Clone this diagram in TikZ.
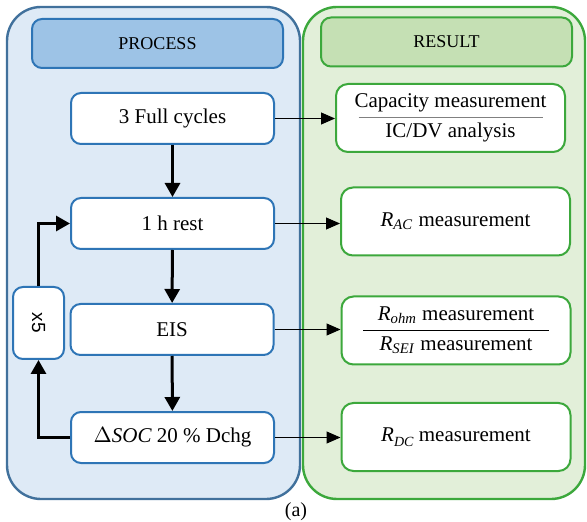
\documentclass[tikz,border=0pt]{standalone}
\usepackage{fontspec}
\setmainfont{Liberation Serif}
\setsansfont{Liberation Sans}
\usetikzlibrary{arrows.meta}

\definecolor{procfill}{RGB}{222,234,246}
\definecolor{procline}{RGB}{65,113,156}
\definecolor{prochead}{RGB}{157,195,230}
\definecolor{procbord}{RGB}{46,117,182}
\definecolor{resfill}{RGB}{226,239,217}
\definecolor{resline}{RGB}{60,168,60}
\definecolor{reshead}{RGB}{197,224,180}

\tikzset{
    procbox/.style={draw=procbord, fill=white, line width=1pt, rounded corners=5pt,
        minimum width=101.5pt, minimum height=25.5pt, font=\fontsize{10.5}{15}\selectfont},
    resbox/.style={draw=resline, fill=white, line width=1pt, rounded corners=6pt,
        minimum width=114.5pt, minimum height=34pt, align=center, font=\fontsize{10.5}{15}\selectfont},
    headbox/.style={line width=1pt, rounded corners=5pt, minimum width=125.5pt,
        minimum height=24.5pt, font=\fontsize{9}{11}\selectfont},
    flow/.style={line width=1.5pt, -{Triangle[length=7pt,width=7.5pt]}},
    link/.style={line width=0.5pt, -{Triangle[length=7pt,width=6pt]}}
}

\begin{document}
\begin{tikzpicture}[x=0.5pt, y=-0.5pt]
    \useasboundingbox (0,0) rectangle (587,522);

    % panels
    \draw[procline, fill=procfill, line width=1.2pt, rounded corners=17pt](7,7) rectangle (300,499);
    \draw[resline, fill=resfill, line width=1.2pt, rounded corners=17pt](303,7) rectangle (585,499);

    \node[headbox, draw=procbord, fill=prochead](phead) at (157.5,43.5){PROCESS};
    \node[headbox, draw=resline, fill=reshead](rhead) at (446.5,42){RESULT};

    % process steps
    \node[procbox](full) at (172.5,118.5){3 Full cycles};
    \node[procbox](rest) at (172.5,223.5){1 h rest};
    \node[procbox](eis) at (172,329.5){EIS};
    \node[procbox](soc) at (172.5,437.5){$\Delta\mathit{SOC}$ 20 \% Dchg};
    \node[procbox, minimum width=25.5pt, minimum height=36pt, rounded corners=5pt,
        font=\sffamily\fontsize{9.5}{11}\selectfont](rep) at (38.5,323){\rotatebox{-90}{x5}};

    % results
    \node[resbox](cap) at (450.5,118){Capacity measurement\\IC/DV analysis};
    \node[resbox](rac) at (455.5,221.5){\textit{R}\textsubscript{\textit{AC}} measurement};
    \node[resbox](rohm) at (456,330.5){\textit{R}\textsubscript{\textit{ohm}} measurement\\\textit{R}\textsubscript{\textit{SEI}} measurement};
    \node[resbox](rdc) at (456,437){\textit{R}\raisebox{-0.55ex}{\scriptsize\textit{DC}} measurement};

    \draw[gray, line width=0.5pt](cap.center) ++(-92,0) -- ++(184,0);
    \draw[black, line width=0.5pt](rohm.center) ++(-93,0) -- ++(186,0);

    % flow
    \draw[flow](full) -- (rest);
    \draw[flow](rest) -- (eis);
    \draw[flow](eis) -- (soc);
    \draw[flow](soc.west) -| (rep.south);
    \draw[flow](rep.north) |- (rest.west);

    \draw[link](full.east) -- (full.east -| cap.west);
    \draw[link](rest.east) -- (rest.east -| rac.west);
    \draw[link](eis.east) -- (eis.east -| rohm.west);
    \draw[link](soc.east) -- (soc.east -| rdc.west);

    \node[font=\fontsize{10}{12}\selectfont](cap-a) at (296,512){(a)};
\end{tikzpicture}
\end{document}
